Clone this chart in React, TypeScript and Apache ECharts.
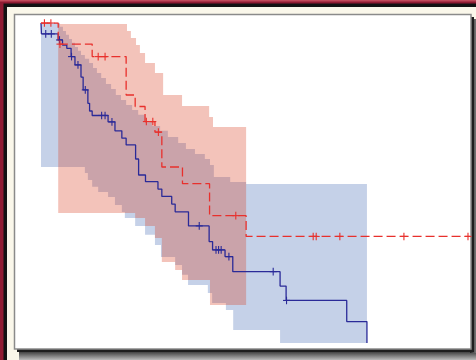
import React, { useEffect, useRef } from 'react';
import * as echarts from 'echarts';

type Pt = [number, number];

// Kaplan-Meier curves: [time, survival] after each event
const RED_CURVE: Pt[] = [[0, 1], [4.0, 0.934], [11.9, 0.895], [19.8, 0.775], [21.9, 0.739], [24.2, 0.692], [26.5, 0.659], [28.1, 0.55], [32.9, 0.498], [39.2, 0.398], [47.7, 0.333], [99.8, 0.333]];
const RED_CENSOR: number[] = [0.8, 2.3, 4.4, 13.3, 14.9, 24.5, 26.0, 27.3, 45.3, 63.3, 64.0, 69.5, 84.4, 99.3];

const BLUE_CURVE: Pt[] = [[0, 1], [0.1, 0.966], [4.0, 0.947], [5.0, 0.931], [6.0, 0.921], [7.0, 0.895], [7.9, 0.869], [9.3, 0.831], [9.8, 0.791], [10.9, 0.749], [11.3, 0.725], [11.9, 0.711], [15.6, 0.691], [17.2, 0.663], [18.8, 0.64], [19.8, 0.619], [22.0, 0.575], [22.7, 0.525], [24.3, 0.504], [27.2, 0.481], [28.1, 0.458], [30.4, 0.434], [31.2, 0.41], [34.3, 0.366], [39.1, 0.317], [39.9, 0.291], [42.8, 0.27], [44.6, 0.223], [55.6, 0.178], [57.0, 0.133], [71.1, 0.067], [75.8, 0]];
const BLUE_CENSOR: number[] = [1.1, 2.4, 4.3, 7.1, 8.6, 10.3, 14.1, 14.9, 16.5, 36.8, 40.7, 41.3, 41.9, 43.7, 54.0, 57.1];

// Confidence bands (step edges)
const RED_BAND_END = 47.7;
const RED_UPPER: Pt[] = [[4.0, 0.997], [20.0, 0.975], [20.9, 0.953], [22.1, 0.931], [23.0, 0.906], [24.2, 0.875], [26.5, 0.844], [28.4, 0.775], [32.8, 0.741], [39.1, 0.706], [40.0, 0.675]];
const RED_LOWER: Pt[] = [[4.0, 0.406], [21.9, 0.391], [24.2, 0.366], [26.5, 0.328], [28.1, 0.253], [31.2, 0.228], [32.8, 0.197], [39.3, 0.119]];

const BLUE_BAND_END = 75.8;
const BLUE_UPPER: Pt[] = [[0, 1], [4.4, 0.988], [5.1, 0.975], [5.8, 0.963], [6.5, 0.95], [7.2, 0.938], [7.9, 0.925], [8.6, 0.913], [9.3, 0.9], [10.2, 0.888], [11.2, 0.875], [12.1, 0.859], [13.0, 0.844], [14.0, 0.828], [15.1, 0.809], [16.3, 0.794], [17.4, 0.775], [18.6, 0.759], [19.8, 0.744], [21.2, 0.728], [22.6, 0.713], [24.2, 0.694], [25.8, 0.678], [27.7, 0.663], [29.5, 0.644], [31.9, 0.625], [33.7, 0.606], [35.8, 0.591], [38.1, 0.575], [39.3, 0.556], [40.2, 0.519], [44.0, 0.503], [47.7, 0.497]];
const BLUE_LOWER: Pt[] = [[0, 0.55], [10.2, 0.531], [10.9, 0.509], [11.9, 0.488], [13.3, 0.472], [15.6, 0.456], [17.2, 0.431], [18.8, 0.409], [19.5, 0.391], [21.9, 0.366], [24.2, 0.338], [26.5, 0.306], [27.9, 0.269], [31.2, 0.244], [32.8, 0.213], [34.2, 0.181], [38.8, 0.156], [39.8, 0.125], [43.0, 0.103], [44.7, 0.041], [55.6, 0]];

const RED = '#e8302c';
const NAVY = '#2a2a98';

function stepPath(edge: Pt[], tEnd: number): Pt[] {
  const out: Pt[] = [];
  edge.forEach((p, i) => {
    const next = i + 1 < edge.length ? edge[i + 1][0] : tEnd;
    out.push([p[0], p[1]], [next, p[1]]);
  });
  return out;
}

function bandPolygon(upper: Pt[], lower: Pt[], tEnd: number): Pt[] {
  return stepPath(upper, tEnd).concat(stepPath(lower, tEnd).reverse());
}

function valueAt(curve: Pt[], t: number): number {
  let v = curve[0][1];
  for (const p of curve) {
    if (p[0] <= t) v = p[1];
  }
  return v;
}

function bandSeries(poly: Pt[], fill: string, z: number) {
  return {
    type: 'custom',
    z,
    silent: true,
    data: [[0, 0]],
    renderItem: (_params: any, api: any) => ({
      type: 'polygon',
      shape: { points: poly.map((p) => api.coord(p)) },
      style: { fill },
    }),
  };
}

function censorSeries(curve: Pt[], times: number[], color: string, z: number) {
  return {
    type: 'custom',
    z,
    silent: true,
    data: times.map((t) => [t, valueAt(curve, t)]),
    renderItem: (_params: any, api: any) => {
      const c = api.coord([api.value(0), api.value(1)]);
      return {
        type: 'group',
        children: [
          { type: 'line', shape: { x1: c[0], y1: c[1] - 3.8, x2: c[0], y2: c[1] + 3.8 }, style: { stroke: color, lineWidth: 1.1 } },
          { type: 'line', shape: { x1: c[0] - 3.5, y1: c[1], x2: c[0] + 3.5, y2: c[1] }, style: { stroke: color, lineWidth: 1.1 } },
        ],
      };
    },
  };
}

export default function App() {
  const ref = useRef<HTMLDivElement>(null);

  useEffect(() => {
    if (!ref.current) return;
    const chart = echarts.init(ref.current, null, { renderer: 'svg' });
    const option: any = {
      animation: false,
      graphic: {
        elements: [
          { type: 'rect', z: 0, silent: true, shape: { x: 0, y: 0, width: 476, height: 360 }, style: { fill: '#8f1b32' } },
          { type: 'rect', z: 0, silent: true, shape: { x: 0, y: 0, width: 476, height: 1.5 }, style: { fill: '#c04a5a' } },
          { type: 'rect', z: 0, silent: true, shape: { x: 3.5, y: 3.5, width: 472.5, height: 356.5 }, style: { fill: '#121212' } },
          { type: 'rect', z: 0, silent: true, shape: { x: 7, y: 7, width: 469, height: 353 }, style: { fill: '#faf7ea' } },
          {
            type: 'rect', z: 0, silent: true, shape: { x: 19, y: 351, width: 457, height: 9 },
            style: { fill: new echarts.graphic.LinearGradient(0, 0, 0, 1, [{ offset: 0, color: '#333' }, { offset: 1, color: '#bbb' }]) },
          },
          {
            type: 'rect', z: 0, silent: true, shape: { x: 470, y: 19, width: 6, height: 334 },
            style: { fill: new echarts.graphic.LinearGradient(0, 0, 1, 0, [{ offset: 0, color: '#1e1e1e' }, { offset: 1, color: '#777' }]) },
          },
          { type: 'rect', z: 0, silent: true, shape: { x: 17, y: 17, width: 457, height: 335 }, style: { fill: '#1e1e1e' } },
          { type: 'rect', z: 0, silent: true, shape: { x: 14.5, y: 14.5, width: 456.5, height: 334.5 }, style: { fill: '#ffffff', stroke: '#8a8a8a', lineWidth: 1.5 } },
        ],
      },
      grid: { left: 41, right: 5, top: 23, bottom: 17 },
      xAxis: { type: 'value', min: 0, max: 100, show: false },
      yAxis: { type: 'value', min: 0, max: 1, show: false },
      series: [
        bandSeries(bandPolygon(BLUE_UPPER, BLUE_LOWER, BLUE_BAND_END), 'rgb(197,209,232)', 5),
        bandSeries(bandPolygon(RED_UPPER, RED_LOWER, RED_BAND_END), 'rgba(215,55,25,0.3)', 6),
        {
          type: 'line', z: 7, step: 'end', showSymbol: false, silent: true,
          data: BLUE_CURVE,
          lineStyle: { color: NAVY, width: 1.3 },
        },
        {
          type: 'line', z: 8, step: 'end', showSymbol: false, silent: true,
          data: RED_CURVE,
          lineStyle: { color: RED, width: 1.3, type: [9, 4] },
        },
        censorSeries(BLUE_CURVE, BLUE_CENSOR, NAVY, 9),
        censorSeries(RED_CURVE, RED_CENSOR, RED, 10),
      ],
    };
    chart.setOption(option);
    return () => chart.dispose();
  }, []);

  return <div ref={ref} style={{ position: 'absolute', left: 0, top: 0, width: 476, height: 360 }} />;
}
